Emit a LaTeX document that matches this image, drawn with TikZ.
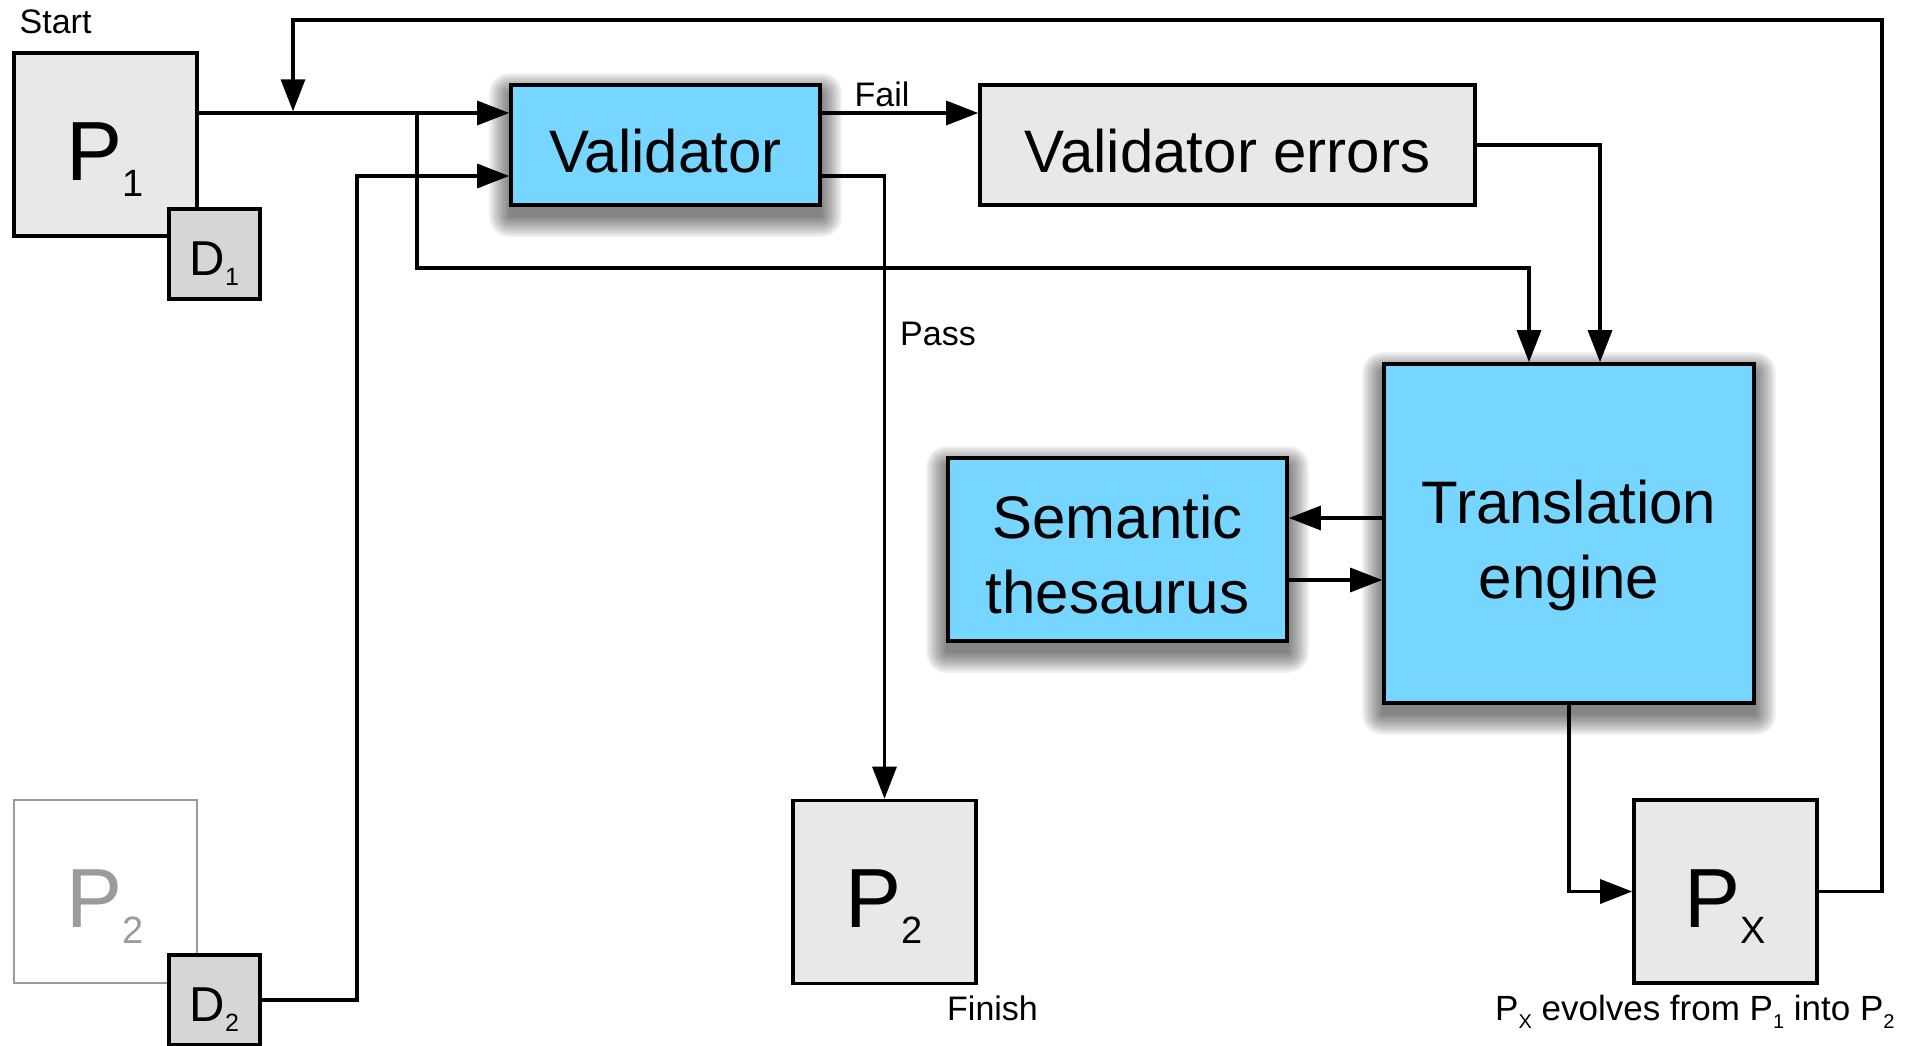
\documentclass[tikz,border=0pt]{standalone}
\usepackage{fontspec}
\setmainfont{Liberation Sans}
\usetikzlibrary{arrows.meta,calc}
\definecolor{skyblue}{RGB}{118,214,255}
\definecolor{boxgray}{RGB}{232,232,232}
\definecolor{dgray}{RGB}{214,214,214}
\definecolor{fadegray}{RGB}{155,155,155}
\pgfdeclarelayer{background}
\pgfsetlayers{background,main}
\newcommand{\myfs}[1]{\fontsize{#1pt}{#1pt}\selectfont}
\newcommand{\bigsub}[1]{\raisebox{-16pt}{\myfs{38}#1}}
\newcommand{\dsub}[1]{\raisebox{-10pt}{\myfs{25}#1}}
\newcommand{\capsub}[1]{\raisebox{-8pt}{\myfs{20}#1}}
\newcommand{\softshadow}[1]{%
  \begin{pgfonlayer}{background}
    \foreach \r in {0,2,...,20}{%
      \fill[black,opacity=0.055,rounded corners=\r pt]
        ($(#1.south west)+(-\r,10+\r)$) rectangle ($(#1.north east)+(\r,10-\r)$);
    }
  \end{pgfonlayer}}
\begin{document}
\begin{tikzpicture}[x=1pt,y=-1pt,
  every node/.style={inner sep=0pt},
  wire/.style={line width=3.2pt},
  conn/.style={wire,-{Triangle[length=32pt,width=24pt]}},
  boxbase/.style={rectangle,draw=black,line width=3.6pt},
  pbox/.style={boxbase,fill=boxgray,minimum width=183pt,minimum height=183pt,
     font=\myfs{84},text height=71pt,text depth=0pt},
  fadebox/.style={pbox,draw=fadegray,fill=white,text=fadegray,line width=2.6pt},
  dbox/.style={boxbase,fill=dgray,minimum width=91pt,minimum height=90pt,
     font=\myfs{49},text height=42pt,text depth=0pt},
  bluebox/.style={boxbase,fill=skyblue},
  wide/.style={minimum width=#1,minimum height=120pt,font=\myfs{60},text height=54pt,text depth=0pt},
  bigtext/.style={font=\myfs{60},anchor=base},
  lbl/.style={font=\myfs{34},anchor=base west},
]
\useasboundingbox (0,0) rectangle (1911,1046);
\begin{pgfonlayer}{background}
  \fill[white] (0,0) rectangle (1911,1046);
\end{pgfonlayer}

% boxes
\node[pbox] (p1) at (105.5,144.5) {P\bigsub{1}};
\node[dbox] (d1) at (214.5,254) {D\dsub{1}};
\node[fadebox] (p2f) at (105.5,891.5) {P\bigsub{2}};
\node[dbox] (d2) at (214.5,1000) {D\dsub{2}};
\node[bluebox,wide=309pt] (val) at (665.5,145) {Validator};
\node[boxbase,fill=boxgray,wide=495pt] (ve) at (1227.5,145) {Validator errors};
\node[bluebox,minimum width=370pt,minimum height=339pt] (te) at (1569,533.5) {};
\node[bluebox,minimum width=339pt,minimum height=183pt] (st) at (1117.5,549.5) {};
\node[bigtext] (te1) at ($(te.center)+(0,-10.5)$) {Translation};
\node[bigtext] (te2) at ($(te.center)+(0,64.5)$) {engine};
\node[bigtext] (st1) at ($(st.center)+(0,-11.5)$) {Semantic};
\node[bigtext] (st2) at ($(st.center)+(0,63.5)$) {thesaurus};
\node[pbox] (p2) at (884.5,892) {P\bigsub{2}};
\node[pbox] (px) at (1725.5,891.5) {P\bigsub{X}};

\softshadow{val}
\softshadow{te}
\softshadow{st}

% labels
\node[lbl] (start) at (19.5,34) {Start};
\node[lbl] (fail) at (854.5,107) {Fail};
\node[lbl] (pass) at (900,345) {Pass};
\node[lbl] (finish) at (947,1020) {Finish};
\node[lbl,font=\myfs{35}] (cap) at (1495,1020) {P\capsub{X} evolves from P\capsub{1} into P\capsub{2}};

% connector points
\coordinate (vin1) at ($(val.west)+(0,-32)$);
\coordinate (vin2) at ($(val.west)+(0,31)$);
\coordinate (vout1) at ($(val.east)+(0,-32)$);
\coordinate (vout2) at ($(val.east)+(0,31)$);
\coordinate (split) at (417,0 |- vin1);
\coordinate (lane) at (0,268);
\coordinate (tein1) at ($(te.north)+(-40,0)$);
\coordinate (tein2) at ($(te.north)+(31,0)$);
\coordinate (riser) at (357,0);
\coordinate (sts1) at ($(st.east)+(0,-31.5)$);
\coordinate (sts2) at ($(st.east)+(0,30.5)$);
\coordinate (loopR) at (1882,20);
\coordinate (mjx) at (293,0 |- vin1);
\coordinate (mj) at ($(mjx)+(0,-1.6)$);

% connectors
\draw[conn] (p1.east |- vin1) -- (vin1);
\draw[conn] (split) -- (split |- lane) -| (tein1);
\draw[conn] (d2.east) -- (d2.east -| riser) -- (riser |- vin2) -- (vin2);
\draw[conn] (vout1) -- (vout1 -| ve.west);
\draw[conn] (vout2) -| (p2.north);
\draw[conn] (ve.east) -| (tein2);
\draw[conn] (te.west |- sts1) -- (sts1);
\draw[conn] (sts2) -- (te.west |- sts2);
\draw[conn] (te.south) |- (px.west);
\draw[conn] (px.east) -| (loopR) -| (mj);
\end{tikzpicture}
\end{document}
